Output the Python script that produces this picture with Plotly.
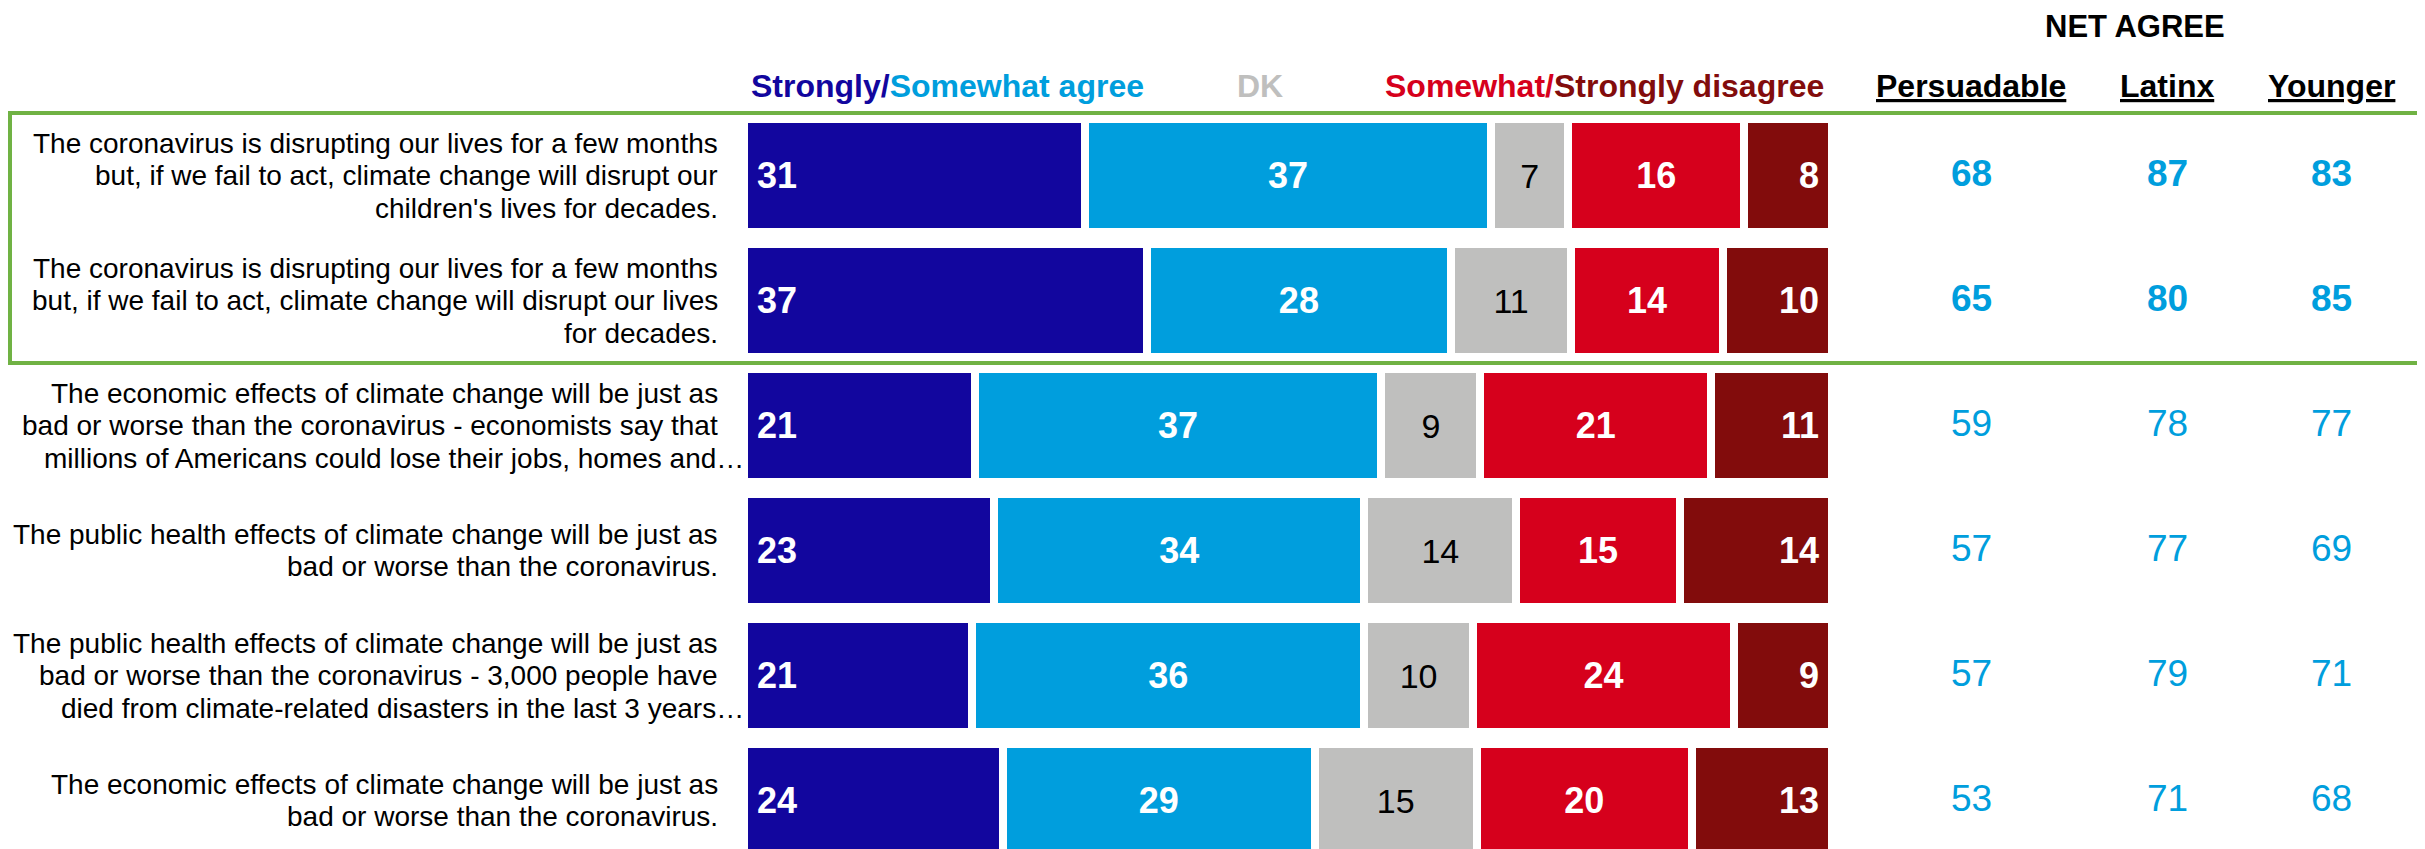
import plotly.graph_objects as go

# ---------------- data ----------------
statements = [
    ["The coronavirus is disrupting our lives for a few months",
     "but, if we fail to act, climate change will disrupt our",
     "children's lives for decades."],
    ["The coronavirus is disrupting our lives for a few months",
     "but, if we fail to act, climate change will disrupt our lives",
     "for decades."],
    ["The economic effects of climate change will be just as",
     "bad or worse than the coronavirus - economists say that",
     "millions of Americans could lose their jobs, homes and…"],
    ["The public health effects of climate change will be just as",
     "bad or worse than the coronavirus."],
    ["The public health effects of climate change will be just as",
     "bad or worse than the coronavirus - 3,000 people have",
     "died from climate-related disasters in the last 3 years…"],
    ["The economic effects of climate change will be just as",
     "bad or worse than the coronavirus."],
]
strongly_agree = [31, 37, 21, 23, 21, 24]
somewhat_agree = [37, 28, 37, 34, 36, 29]
dont_know = [7, 11, 9, 14, 10, 15]
somewhat_disagree = [16, 14, 21, 15, 24, 20]
strongly_disagree = [8, 10, 11, 14, 9, 13]

net_persuadable = [68, 65, 59, 57, 57, 53]
net_latinx = [87, 80, 78, 77, 79, 71]
net_younger = [83, 85, 77, 69, 71, 68]
highlighted_rows = [0, 1]

net_columns = ["Persuadable", "Latinx", "Younger"]

# ---------------- style ----------------
OFF = 8  # default page body margin
W, H = 2425 - OFF, 849 - OFF
FONT = "Liberation Sans, Arial, sans-serif"
C_DBLUE = "#12069E"
C_LBLUE = "#009EDD"
C_GRAY = "#BFBFBE"
C_RED = "#D6001C"
C_DRED = "#820C0C"
C_GREEN = "#70B244"

rows = list(range(len(statements)))

def px_x(p):  # page pixel -> paper x
    return (p - OFF) / W

def px_y(p):  # page pixel -> paper y
    return 1 - (p - OFF) / H

fig = go.Figure()

NB = "\u00a0"
series = [
    (strongly_agree, C_DBLUE, "start", "white", True, NB + "%{text}"),
    (somewhat_agree, C_LBLUE, "middle", "white", True, "%{text}"),
    (dont_know, C_GRAY, "middle", "black", False, "%{text}"),
    (somewhat_disagree, C_RED, "middle", "white", True, "%{text}"),
    (strongly_disagree, C_DRED, "end", "white", True, "%{text}" + NB),
]
for vals, col, anchor, tcol, bold, tmpl in series:
    fig.add_trace(go.Bar(
        y=rows, x=vals, orientation="h",
        marker=dict(color=col, line=dict(color="white", width=8)),
        text=[str(v) for v in vals],
        texttemplate=("<b>" + tmpl + "</b>") if bold else tmpl,
        textposition="inside",
        insidetextanchor=anchor,
        textfont=dict(family=FONT, size=36 if bold else 34, color=tcol),
        constraintext="none",
        hoverinfo="skip",
        showlegend=False,
    ))

pitch = 125.0
row0_center = 175.5 - OFF
y_top = -row0_center / pitch
y_bottom = (H - row0_center) / pitch

fig.update_layout(
    width=W, height=H, autosize=False,
    margin=dict(l=0, r=0, t=0, b=0),
    paper_bgcolor="white", plot_bgcolor="white",
    barmode="stack", barnorm="percent", bargap=0.096,
    xaxis=dict(domain=[px_x(744), px_x(1832)], range=[0, 100], visible=False, fixedrange=True),
    yaxis=dict(domain=[0, 1], range=[y_bottom, y_top], visible=False, fixedrange=True),
    font=dict(family=FONT),
)

annotations = []
# row labels, one annotation per line
LINE = 32.5
for i, lines in enumerate(statements):
    n = len(lines)
    for k, ln in enumerate(lines):
        shift = ((n - 1) / 2 - k) * LINE
        right = 746 if ln.endswith("…") else 720
        annotations.append(dict(
            x=px_x(right), xref="paper", y=i, yref="y", yshift=shift,
            text=ln, showarrow=False, xanchor="right", yanchor="middle", align="right",
            font=dict(family=FONT, size=28, color="black"),
        ))

# net agree values
net_x = [1971, 2167, 2331]
for cx, vals in zip(net_x, [net_persuadable, net_latinx, net_younger]):
    for i, v in enumerate(vals):
        t = f"<b>{v}</b>" if i in highlighted_rows else str(v)
        annotations.append(dict(
            x=px_x(cx), xref="paper", y=i, yref="y", yshift=2,
            text=t, showarrow=False, xanchor="center", yanchor="middle",
            font=dict(family=FONT, size=37, color=C_LBLUE),
        ))

# headers
hy = px_y(86)
annotations.append(dict(
    x=px_x(749), xref="paper", y=hy, yref="paper", xanchor="left", yanchor="middle",
    text=f"<b><span style='color:{C_DBLUE}'>Strongly/</span><span style='color:{C_LBLUE}'>Somewhat agree</span></b>",
    showarrow=False, font=dict(family=FONT, size=32),
))
annotations.append(dict(
    x=px_x(1260), xref="paper", y=hy, yref="paper", xanchor="center", yanchor="middle",
    text="<b>DK</b>", showarrow=False, font=dict(family=FONT, size=32, color=C_GRAY),
))
annotations.append(dict(
    x=px_x(1826), xref="paper", y=hy, yref="paper", xanchor="right", yanchor="middle",
    text=f"<b><span style='color:{C_RED}'>Somewhat/</span><span style='color:{C_DRED}'>Strongly disagree</span></b>",
    showarrow=False, font=dict(family=FONT, size=32),
))
annotations.append(dict(
    x=px_x(2135), xref="paper", y=px_y(8), yref="paper", xanchor="center", yanchor="top",
    text="<b>NET AGREE</b>", showarrow=False, font=dict(family=FONT, size=31, color="black"),
    borderpad=0,
))
for cx, name in zip(net_x, net_columns):
    annotations.append(dict(
        x=px_x(cx), xref="paper", y=hy, yref="paper", xanchor="center", yanchor="middle",
        text=f"<b><u>{name}</u></b>", showarrow=False, font=dict(family=FONT, size=32, color="black"),
    ))

fig.update_layout(annotations=annotations)

# highlight box
fig.add_shape(type="rect", xref="paper", yref="paper",
              x0=px_x(10), x1=px_x(2421), y0=px_y(363), y1=px_y(113),
              line=dict(color=C_GREEN, width=4), fillcolor="rgba(0,0,0,0)", layer="above")

fig.write_html("out.html")
